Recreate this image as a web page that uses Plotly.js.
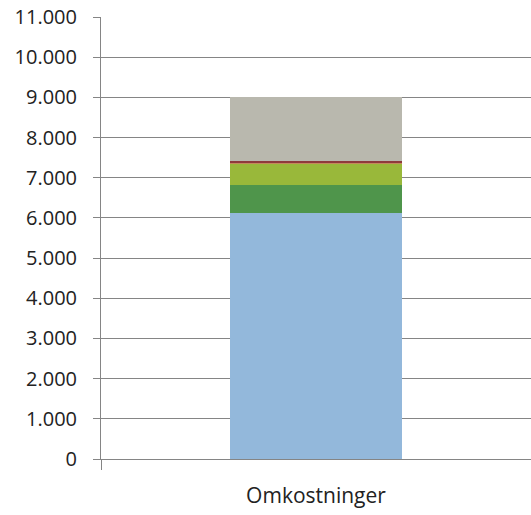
<!DOCTYPE html>
<html>
<head>
<meta charset="utf-8">
<script src="https://cdn.plot.ly/plotly-3.0.1.min.js"></script>
<style>html,body{margin:0;padding:0;background:#fff;}#chart{width:531px;height:515px;}</style>
</head>
<body>
<div id="chart"></div>
<script>
const categories = ["Omkostninger"];
const seriesNames = ["Post 1", "Post 2", "Post 3", "Post 4", "Post 5", "Post 6"];
const seriesValues = [[6120], [690], [530], [25], [45], [1590]];
const seriesColors = ["#93B8DB", "#4F954B", "#99B83A", "#C48A5C", "#8E3B3B", "#B9B8AE"];
const yTickValues = [0,1000,2000,3000,4000,5000,6000,7000,8000,9000,10000,11000];

const traces = seriesNames.map((n, i) => ({
  type: "bar",
  name: n,
  x: categories,
  y: seriesValues[i],
  marker: {color: seriesColors[i], line: {width: 0}},
  width: 0.4,
  hoverinfo: "skip"
}));

const layout = {
  width: 531, height: 515,
  margin: {l: 101, r: 0, t: 17, b: 56},
  barmode: "stack",
  showlegend: false,
  separators: ",.",
  paper_bgcolor: "#fff",
  plot_bgcolor: "#fff",
  font: {family: "Open Sans, sans-serif", size: 20, color: "#222"},
  yaxis: {
    range: [0, 11000],
    tickvals: yTickValues,
    tickformat: ",d",
    showgrid: true, gridcolor: "#858585", gridwidth: 1,
    showline: true, linecolor: "#858585", linewidth: 1,
    ticks: "outside", ticklen: 7, tickcolor: "#858585",
    ticklabelstandoff: 12,
    zeroline: false,
    tickfont: {size: 20, color: "#222"}
  },
  xaxis: {
    type: "category",
    showline: true, linecolor: "#858585", linewidth: 1,
    ticks: "outside", tickson: "boundaries", ticklen: 10, tickcolor: "#858585",
    ticklabelstandoff: 18,
    showgrid: false,
    tickfont: {size: 21, color: "#222"}
  }
};

Plotly.newPlot("chart", traces, layout, {displayModeBar: false, staticPlot: true});
</script>
</body>
</html>
